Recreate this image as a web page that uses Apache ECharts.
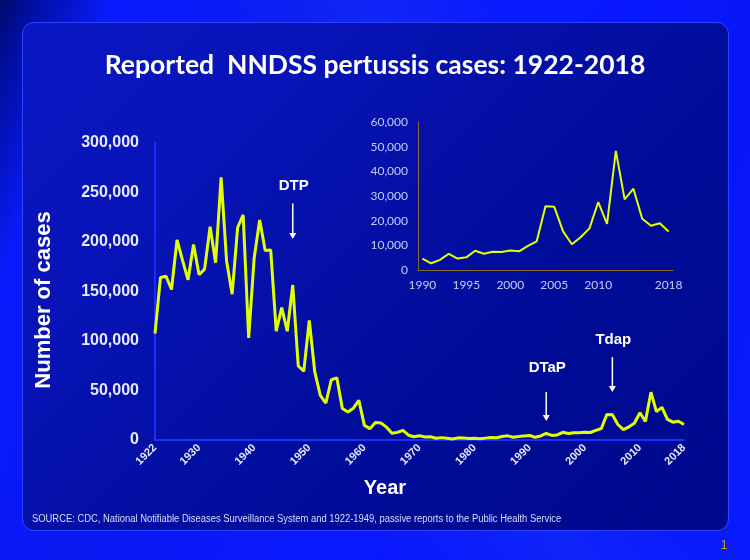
<!DOCTYPE html>
<html>
<head>
<meta charset="utf-8">
<script src="https://cdn.jsdelivr.net/npm/echarts@6/dist/echarts.min.js"></script>
<style>
html,body{margin:0;padding:0;width:750px;height:560px;overflow:hidden;}
body{position:relative;background:linear-gradient(112deg,#000a6a 0%,#000e9a 3%,#0a1cff 12%,#0818f0 30%,#0a1aff 55%,#0716f8 80%,#0a1cff 100%);}
#streak{position:absolute;left:0;top:0;width:750px;height:560px;background:linear-gradient(70deg,rgba(0,0,60,0) 0%,rgba(0,0,60,0) 40%,rgba(40,80,255,0.25) 60%,rgba(0,0,60,0) 75%);}
#panel{position:absolute;left:22px;top:22px;width:705px;height:507px;border-radius:12px;border:1px solid #2a44ff;
background:linear-gradient(135deg,#0a18c4 0%,#0814b8 25%,#0410a6 45%,#000c98 65%,#00098c 100%);}
#chart{position:absolute;left:0;top:0;width:750px;height:560px;}
</style>
</head>
<body>
<div id="streak"></div>
<div id="panel"></div>
<div id="chart"></div>
<script>
// ---- data ----
var years = [];
for (var y = 1922; y <= 2018; y++) years.push(String(y));
var cases = [
107473,164191,165418,152003,202210,181411,161799,197371,166914,172559,
215343,179135,265269,180518,147237,214652,227319,103188,183866,222202,
191383,191890,109873,133792,109860,156517,74715,69479,120718,68687,
45030,37129,60886,62786,31732,28295,32148,40005,14809,11468,
17749,17135,13005,6799,7717,9718,4810,3285,4249,3036,
3287,1759,2402,1738,1010,2177,2063,1623,1730,1248,
1895,2463,2276,3589,4195,2823,3450,4157,4570,2719,
4083,6586,4617,5137,7796,6564,7405,7288,7867,7580,
9771,11647,25827,25616,15632,10454,13278,16858,27550,18719,
48277,28639,32971,20762,17972,18975,15609
];
var mainXLabels = ['1922','1930','1940','1950','1960','1970','1980','1990','2000','2010','2018'];
var insetStart = '1990';
var insetYears = years.slice(years.indexOf(insetStart));
var insetCases = cases.slice(years.indexOf(insetStart));
var insetXLabels = ['1990','1995','2000','2005','2010','2018'];
// annotation: text, year, text value, arrow top value, arrow tip value
var annoText = ['DTP','DTaP','Tdap'];
var annoYear = ['1947','1993','2005'];
var annoTextVal = [257000,72700,101000];
var annoTopVal = [239000,48500,83800];
var annoTipVal = [203000,19200,48500];

var title = 'Reported  NNDSS pertussis cases: 1922-2018';
var xName = 'Year';
var yName = 'Number of cases';
var source = 'SOURCE: CDC, National Notifiable Diseases Surveillance System and 1922-1949, passive reports to the Public Health Service';

var chart = echarts.init(document.getElementById('chart'), null, {renderer:'canvas'});
function fmt(v){return String(v).replace(/\B(?=(\d{3})+(?!\d))/g, ',');}

var option = {
  backgroundColor:'transparent',
  animation:false,
  title:{text:title,left:'center',top:47,textStyle:{color:'#ffffff',fontFamily:'Lato',fontWeight:'bold',fontSize:26.5}},
  grid:[
    {left:155,right:66,top:143,bottom:120},
    {left:418,right:77,top:122,bottom:290}
  ],
  xAxis:[
    {type:'category',gridIndex:0,data:years,boundaryGap:false,
     axisLine:{lineStyle:{color:'#1830ff',width:2}},axisTick:{show:false},
     axisLabel:{rotate:45,margin:6,color:'#e4e8ff',fontFamily:'Liberation Sans',fontWeight:'bold',fontSize:11,
       interval:function(i,v){return mainXLabels.indexOf(v)>=0;}},
     splitLine:{show:false}},
    {type:'category',gridIndex:1,data:insetYears,boundaryGap:true,
     axisLine:{lineStyle:{color:'#8a6a28',width:1}},axisTick:{show:false},
     axisLabel:{margin:9,color:'#c4ccff',fontFamily:'Lato',fontSize:12,
       interval:function(i,v){return insetXLabels.indexOf(v)>=0;}},
     splitLine:{show:false}}
  ],
  yAxis:[
    {type:'value',gridIndex:0,min:0,max:300000,interval:50000,
     axisLine:{show:true,lineStyle:{color:'#1a2cff',width:2}},axisTick:{show:false},
     axisLabel:{margin:16,color:'#e8eaff',fontFamily:'Liberation Sans',fontWeight:'bold',fontSize:16,formatter:fmt},
     splitLine:{show:false}},
    {type:'value',gridIndex:1,min:0,max:60000,interval:10000,
     axisLine:{show:true,lineStyle:{color:'#8a6a28',width:1}},axisTick:{show:false},
     axisLabel:{margin:10,color:'#c4ccff',fontFamily:'Lato',fontSize:12,formatter:fmt},
     splitLine:{show:false}}
  ],
  series:[
    {type:'line',xAxisIndex:0,yAxisIndex:0,data:cases,symbol:'none',
     lineStyle:{color:'#e2ff00',width:3},z:3},
    {type:'line',xAxisIndex:1,yAxisIndex:1,data:insetCases,symbol:'none',
     lineStyle:{color:'#e2ff00',width:2},z:3}
  ]
};
chart.setOption(option);

var g = [];
for (var i=0;i<annoText.length;i++){
  var pt = chart.convertToPixel({xAxisIndex:0,yAxisIndex:0},[annoYear[i],annoTextVal[i]]);
  var p1 = chart.convertToPixel({xAxisIndex:0,yAxisIndex:0},[annoYear[i],annoTopVal[i]]);
  var p2 = chart.convertToPixel({xAxisIndex:0,yAxisIndex:0},[annoYear[i],annoTipVal[i]]);
  g.push({type:'text',x:pt[0]+1,y:pt[1],style:{text:annoText[i],fill:'#ffffff',font:'bold 15px "Liberation Sans"',textAlign:'center',textVerticalAlign:'middle'}});
  g.push({type:'line',shape:{x1:p1[0],y1:p1[1],x2:p2[0],y2:p2[1]-4},style:{stroke:'#ffffff',lineWidth:1.5}});
  g.push({type:'polygon',shape:{points:[[p2[0]-3.5,p2[1]-6],[p2[0]+3.5,p2[1]-6],[p2[0],p2[1]]]},style:{fill:'#ffffff'}});
}
// axis titles
g.push({type:'text',x:385,y:488,style:{text:xName,fill:'#ffffff',font:'bold 20px "Liberation Sans"',textAlign:'center',textVerticalAlign:'middle'}});
g.push({type:'text',x:44,y:300,rotation:Math.PI/2,style:{text:yName,fill:'#ffffff',font:'bold 22px "Liberation Sans"',textAlign:'center',textVerticalAlign:'middle'}});
g.push({type:'text',x:32,y:519,scaleX:0.94,style:{text:source,fill:'#d8dcff',font:'10px "Liberation Sans"',textVerticalAlign:'middle'}});
g.push({type:'text',x:724,y:546,style:{text:'1',fill:'#c8a010',font:'12px "Liberation Sans"',textAlign:'center',textVerticalAlign:'middle'}});
chart.setOption({graphic:g});
</script>
</body>
</html>
